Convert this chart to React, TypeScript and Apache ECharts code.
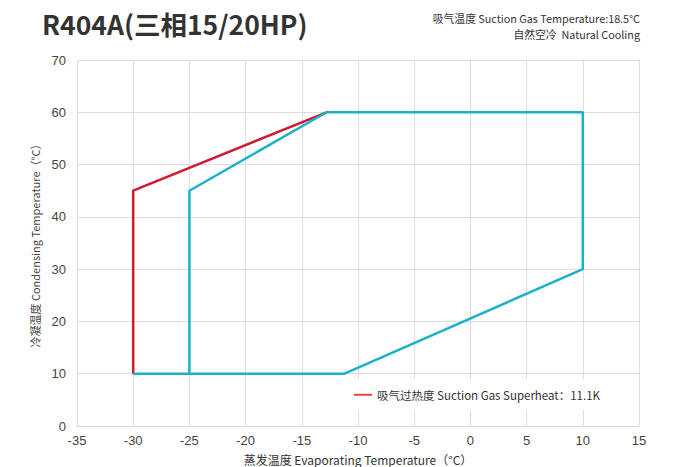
import React, { useEffect, useRef } from "react";
import * as echarts from "echarts";

const titleText = "R404A(三相15/20HP)";
const noteLine1 = "吸气温度 Suction Gas Temperature:18.5°C";
const noteLine2 = "自然空冷  Natural Cooling";
const xAxisName = "蒸发温度 Evaporating Temperature（°C）";
const yAxisName = "冷凝温度 Condensing Temperature（°C）";
const legendName = "吸气过热度 Suction Gas Superheat：11.1K";

// Red envelope (superheat 11.1K)
const redX = [-30, -30, -30, -12.8];
const redY = [10, 10, 45, 60];
// Teal envelope
const tealX = [-30, -11.2, 10, 10, -12.8, -25, -25];
const tealY = [10, 10, 30, 60, 60, 45, 10];

const xMin = -35, xMax = 15, xStep = 5;
const yMin = 0, yMax = 70, yStep = 10;

const RED = "#d11a2f";
const TEAL = "#1bb1c8";
const FONT = "'Noto Sans CJK SC', 'Noto Sans', sans-serif";

export default function App() {
  const ref = useRef<HTMLDivElement>(null);
  useEffect(() => {
    document.body.style.margin = "0";
    if (!ref.current) return;
    const chart = echarts.init(ref.current, undefined, { renderer: "svg" });
    const redData = redX.map((x, i) => [x, redY[i]]);
    const tealData = tealX.map((x, i) => [x, tealY[i]]);
    chart.setOption({
      animation: false,
      backgroundColor: "#fff",
      title: {
        text: titleText,
        left: 37,
        top: 5,
        textStyle: { fontFamily: FONT, fontSize: 26.5, fontWeight: "bold", color: "#333" },
      },
      graphic: [
        {
          type: "text",
          x: 640,
          y: 11,
          style: {
            text: noteLine1,
            align: "right",
            verticalAlign: "top",
            font: "10.8px 'Noto Sans CJK SC', sans-serif",
            lineHeight: 13,
            fill: "#333",
          },
        },
        {
          type: "text",
          x: 640,
          y: 27,
          style: {
            text: noteLine2,
            align: "right",
            verticalAlign: "top",
            font: "10.8px 'Noto Sans CJK SC', sans-serif",
            lineHeight: 13,
            fill: "#333",
          },
        },
      ],
      legend: {
        data: [{ name: legendName }],
        left: 340,
        top: 379,
        padding: [10, 38, 10, 14],
        backgroundColor: "#fff",
        itemWidth: 18,
        itemHeight: 12,
        itemGap: 4,
        icon: "path://M0,5 L20,5 L20,7 L0,7 Z",
        textStyle: { fontFamily: FONT, fontSize: 11.5, color: "#333" },
        z: 10,
      },
      grid: { left: 77, right: 35, top: 60, bottom: 41, containLabel: false, outerBoundsMode: "none" },
      xAxis: {
        type: "value",
        min: xMin,
        max: xMax,
        interval: xStep,
        name: xAxisName,
        nameLocation: "middle",
        nameGap: 27,
        nameTextStyle: { fontFamily: FONT, fontSize: 12, color: "#333" },
        axisLine: { show: true, lineStyle: { color: "#d9d9d9" } },
        axisTick: { show: false },
        axisLabel: { color: "#444", fontSize: 13, fontFamily: "'Liberation Sans', Arial, sans-serif", margin: 8 },
        splitLine: { show: true, lineStyle: { color: "#dedede" } },
      },
      yAxis: {
        type: "value",
        min: yMin,
        max: yMax,
        interval: yStep,
        name: yAxisName,
        nameLocation: "middle",
        nameGap: 37,
        nameTextStyle: { fontFamily: FONT, fontSize: 11, color: "#444" },
        axisLine: { show: true, lineStyle: { color: "#d9d9d9" } },
        axisTick: { show: false },
        axisLabel: { color: "#444", fontSize: 13, fontFamily: "'Liberation Sans', Arial, sans-serif", margin: 11 },
        splitLine: { show: true, lineStyle: { color: "#dedede" } },
      },
      series: [
        {
          name: legendName,
          type: "line",
          data: redData,
          showSymbol: false,
          symbol: "none",
          lineStyle: { color: RED, width: 2.5 },
          itemStyle: { color: "#e8383a" },
          z: 2,
        },
        {
          name: "teal",
          type: "line",
          data: tealData,
          showSymbol: false,
          symbol: "none",
          lineStyle: { color: TEAL, width: 2.5 },
          itemStyle: { color: TEAL },
          z: 3,
        },
      ],
    });
    return () => chart.dispose();
  }, []);
  return <div ref={ref} style={{ width: 674, height: 467 }} />;
}
